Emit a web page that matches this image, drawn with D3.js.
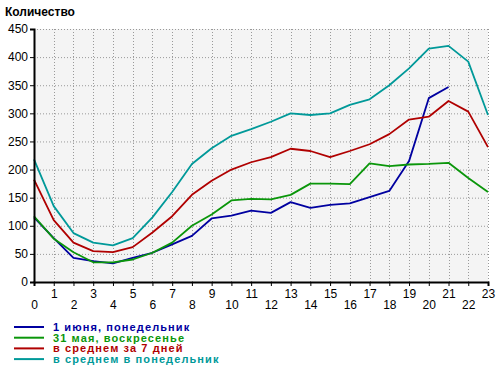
<!DOCTYPE html>
<html>
<head>
<meta charset="utf-8">
<script src="https://cdn.jsdelivr.net/npm/d3@7"></script>
<style>
  body { margin: 0; background: #fff; }
  svg { display: block; font-family: "Liberation Sans", Arial, sans-serif; }
</style>
</head>
<body>
<div id="chart"></div>
<script>
const hours = d3.range(0, 24);
const yTicks = [0, 50, 100, 150, 200, 250, 300, 350, 400, 450];

const june1 = [115, 78, 43, 37, 33, 43, 52, 67, 82, 113, 118, 127, 123, 142, 132, 137, 140, 151, 162, 215, 327, 347];
const may31 = [117, 77, 53, 35, 35, 40, 52, 70, 100, 120, 145, 148, 147, 155, 175, 175, 174, 211, 206, 209, 210, 212, 185, 160];
const avg7 = [182, 110, 70, 55, 53, 62, 88, 117, 155, 180, 200, 213, 222, 237, 233, 222, 233, 245, 263, 289, 294, 322, 303, 240];
const avgMon = [218, 135, 87, 70, 65, 78, 115, 160, 210, 238, 260, 272, 285, 300, 297, 300, 315, 325, 350, 380, 415, 420, 392, 297];

const seriesNames = ['1 июня, понедельник', '31 мая, воскресенье', 'в среднем за 7 дней', 'в среднем в понедельник'];
const seriesColors = ['#0000a0', '#0a960a', '#b00000', '#009999'];
const seriesValues = [june1, may31, avg7, avgMon];

const width = 500, height = 376;
const svg = d3.select('#chart').append('svg').attr('width', width).attr('height', height);

const x = d3.scaleLinear().domain([0, 23]).range([34, 488]);
const y = d3.scaleLinear().domain([0, 450]).range([282, 29]);

// plot background
svg.append('rect')
  .attr('x', x(0)).attr('y', y(450))
  .attr('width', x(23) - x(0)).attr('height', y(0) - y(450))
  .attr('fill', '#f4f4f4');

// grid
svg.append('g')
  .selectAll('line.h')
  .data(yTicks.slice(1))
  .enter().append('line')
  .attr('x1', x(0)).attr('x2', x(23))
  .attr('y1', d => y(d) + 0.5).attr('y2', d => y(d) + 0.5)
  .attr('stroke', '#999').attr('stroke-dasharray', '1,2');

svg.append('g')
  .selectAll('line.v')
  .data(hours.slice(1))
  .enter().append('line')
  .attr('x1', d => Math.round(x(d)) + 0.5).attr('x2', d => Math.round(x(d)) + 0.5)
  .attr('y1', y(450)).attr('y2', y(0))
  .attr('stroke', '#999').attr('stroke-dasharray', '1,2');

// lines
const line = d3.line().x((d, i) => x(i)).y(d => y(d));
seriesValues.forEach((vals, k) => {
  svg.append('path')
    .datum(vals)
    .attr('fill', 'none')
    .attr('stroke', seriesColors[k])
    .attr('stroke-width', 1.8)
    .attr('stroke-linejoin', 'round')
    .attr('d', line);
});

// y axis
const yAxis = d3.axisLeft(y).tickValues(yTicks).tickSize(4).tickPadding(2);
const gy = svg.append('g').attr('transform', `translate(${x(0)},0)`).call(yAxis);
gy.select('.domain').attr('stroke-width', 2);
gy.selectAll('text').attr('font-size', 12).attr('fill', '#000')
  .attr('font-family', '"Liberation Sans", Arial, sans-serif');

// x axis
const xAxis = d3.axisBottom(x).tickValues(hours).tickSize(4).tickFormat(d3.format('d'));
const gx = svg.append('g').attr('transform', `translate(0,${y(0)})`).call(xAxis);
gx.select('.domain').attr('stroke-width', 2);
gx.selectAll('text').attr('font-size', 12).attr('fill', '#000')
  .attr('font-family', '"Liberation Sans", Arial, sans-serif')
  .attr('y', d => d % 2 ? 7 : 18);

// title
svg.append('text')
  .attr('x', 5).attr('y', 16)
  .attr('font-size', 12).attr('font-weight', 'bold')
  .text('Количество');

// legend
const leg = svg.append('g');
seriesNames.forEach((name, k) => {
  const ly = 327 + k * 10.7;
  leg.append('line')
    .attr('x1', 14).attr('x2', 44)
    .attr('y1', ly).attr('y2', ly)
    .attr('stroke', seriesColors[k]).attr('stroke-width', 2);
  leg.append('text')
    .attr('x', 53).attr('y', ly + 4)
    .attr('font-size', 11).attr('font-weight', 'bold')
    .attr('letter-spacing', 1.1)
    .attr('fill', seriesColors[k])
    .text(name);
});
</script>
</body>
</html>
